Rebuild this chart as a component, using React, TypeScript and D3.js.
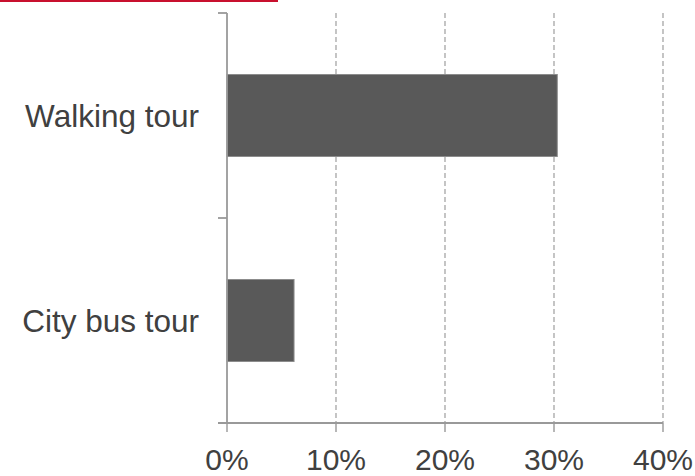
import React from "react";
import * as d3 from "d3";

const categories = ["Walking tour", "City bus tour"];
const values = [0.303, 0.0615];
const xTicks = [0, 0.1, 0.2, 0.3, 0.4];

const W = 695;
const H = 476;
const left = 227;
const right = 663;
const top = 13;
const bottom = 423;

export default function App() {
  const x = d3.scaleLinear().domain([0, 0.4]).range([left, right]);
  const y = d3.scaleBand<string>().domain(categories).range([top, bottom]).paddingInner(0.6).paddingOuter(0.3);
  const fmt = d3.format(".0%");
  const bandStep = (bottom - top) / categories.length;
  const yTickPositions = d3.range(categories.length + 1).map((i) => top + i * bandStep);
  const font = "'Liberation Sans', Arial, sans-serif";
  return (
    <svg width={W} height={H} style={{ position: "absolute", left: 0, top: 0, background: "#fff" }}>
      <rect x={0} y={0} width={278} height={2} fill="#C8102E" />
      {xTicks.slice(1).map((t) => (
        <line key={"g" + t} x1={x(t)} x2={x(t)} y1={top} y2={bottom} stroke="#a6a6a6" strokeWidth={1.3} strokeDasharray="5,3" />
      ))}
      {categories.map((c, i) => (
        <rect key={c} x={x(0)} y={y(c)} width={x(values[i]) - x(0)} height={y.bandwidth()} fill="#595959" stroke="#8c8c8c" strokeWidth={1} />
      ))}
      <line x1={left} x2={left} y1={top} y2={bottom} stroke="#999" strokeWidth={1.8} />
      {yTickPositions.map((p, i) => (
        <line key={"yt" + i} x1={left - 9} x2={left} y1={p} y2={p} stroke="#999" strokeWidth={1.8} />
      ))}
      <line x1={left - 9} x2={right} y1={bottom} y2={bottom} stroke="#999" strokeWidth={1.8} />
      {xTicks.map((t) => (
        <line key={"xt" + t} x1={x(t)} x2={x(t)} y1={bottom} y2={bottom + 9} stroke="#999" strokeWidth={1.4} />
      ))}
      {xTicks.map((t) => (
        <text key={"xl" + t} x={x(t)} y={470} textAnchor="middle" fontFamily={font} fontSize={30} fill="#404040">
          {fmt(t)}
        </text>
      ))}
      {categories.map((c) => (
        <text key={"yl" + c} x={199} y={(y(c) as number) + y.bandwidth() / 2} dy="0.36em" textAnchor="end" fontFamily={font} fontSize={31.5} fill="#404040">
          {c}
        </text>
      ))}
    </svg>
  );
}
